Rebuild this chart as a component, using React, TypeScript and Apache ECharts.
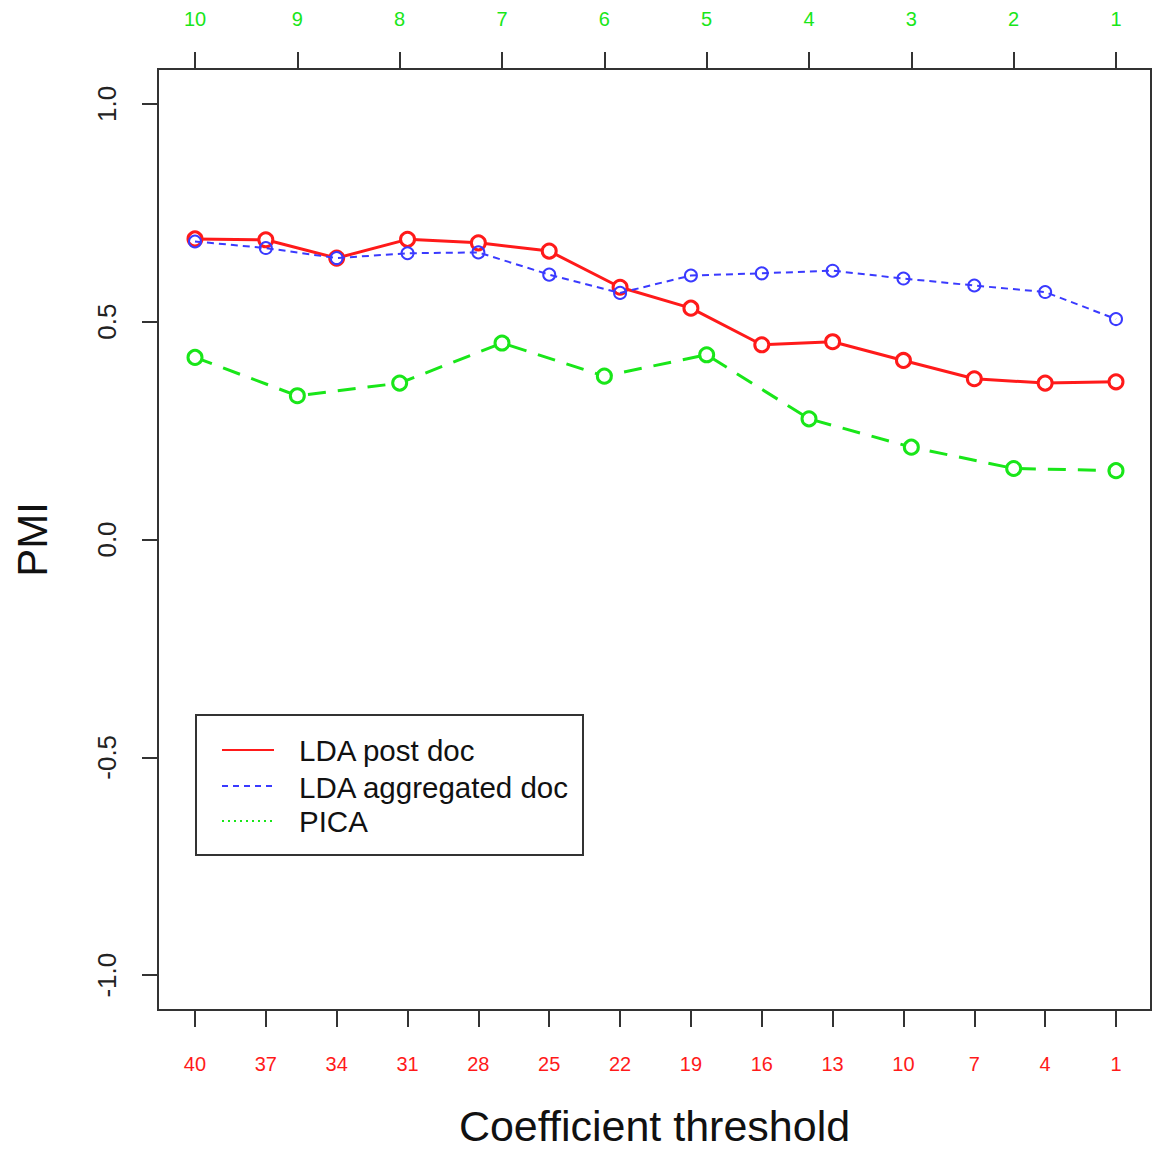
import React, { useEffect, useRef } from "react";
import * as echarts from "echarts";

const bottomLabels = ["40", "37", "34", "31", "28", "25", "22", "19", "16", "13", "10", "7", "4", "1"];
const topLabels = ["10", "9", "8", "7", "6", "5", "4", "3", "2", "1"];
const yTicks = [-1, -0.5, 0, 0.5, 1];

const ldaPostDoc = [0.69, 0.688, 0.646, 0.689, 0.681, 0.662, 0.579, 0.531, 0.447, 0.454, 0.411, 0.369, 0.359, 0.362];
const ldaAggregatedDoc = [0.684, 0.669, 0.646, 0.657, 0.659, 0.608, 0.566, 0.606, 0.611, 0.617, 0.599, 0.583, 0.568, 0.506];
const pica = [0.418, 0.33, 0.359, 0.451, 0.375, 0.424, 0.277, 0.212, 0.163, 0.158];

const seriesNames = ["LDA post doc", "LDA aggregated doc", "PICA"];

const FONT = "'Liberation Sans', Arial, Helvetica, sans-serif";
const RED = "#ff1a1a";
const BLUE = "#3a3aff";
const GREEN = "#19e619";
const AXIS = "#333333";

export default function App() {
  const ref = useRef<HTMLDivElement>(null);

  useEffect(() => {
    if (!ref.current) return;
    const chart = echarts.init(ref.current, null, { renderer: "svg" });
    const idx14 = bottomLabels.map((_, i) => i);
    const idx10 = topLabels.map((_, i) => i);

    const option: any = {
      animation: false,
      backgroundColor: "#ffffff",
      textStyle: { fontFamily: FONT },
      grid: {
        left: 158,
        top: 69,
        right: 1,
        bottom: 141,
        show: true,
        borderColor: AXIS,
        borderWidth: 2,
        containLabel: false,
      },
      xAxis: [
        {
          type: "value",
          position: "bottom",
          min: -0.522,
          max: 13.494,
          name: "Coefficient threshold",
          nameLocation: "middle",
          nameGap: 94,
          nameTextStyle: { fontSize: 43, color: "#111", fontFamily: FONT },
          axisLine: { show: true, onZero: false, lineStyle: { color: AXIS, width: 2 } },
          axisTick: { show: true, inside: false, length: 17, customValues: idx14, lineStyle: { color: AXIS, width: 2 } },
          axisLabel: {
            show: true,
            customValues: idx14,
            margin: 44,
            fontSize: 20,
            color: RED,
            fontFamily: FONT,
            formatter: (v: number) => bottomLabels[Math.round(v)] ?? "",
          },
          splitLine: { show: false },
        },
        {
          type: "value",
          position: "top",
          min: -0.3616,
          max: 9.342,
          axisLine: { show: true, onZero: false, lineStyle: { color: AXIS, width: 2 } },
          axisTick: { show: true, inside: false, length: 17, customValues: idx10, lineStyle: { color: AXIS, width: 2 } },
          axisLabel: {
            show: true,
            customValues: idx10,
            margin: 40,
            fontSize: 20,
            color: GREEN,
            fontFamily: FONT,
            formatter: (v: number) => topLabels[Math.round(v)] ?? "",
          },
          splitLine: { show: false },
        },
      ],
      yAxis: {
        type: "value",
        min: -1.08,
        max: 1.08,
        name: "PMI",
        nameLocation: "middle",
        nameRotate: 90,
        nameGap: 105,
        nameTextStyle: { fontSize: 42, color: "#111", fontFamily: FONT },
        axisLine: { show: true, onZero: false, lineStyle: { color: AXIS, width: 2 } },
        axisTick: { show: true, inside: false, length: 16, customValues: yTicks, lineStyle: { color: AXIS, width: 2 } },
        axisLabel: {
          show: true,
          customValues: yTicks,
          rotate: 90,
          margin: 38,
          fontSize: 26,
          color: "#222",
          fontFamily: FONT,
          formatter: (v: number) => v.toFixed(1),
        },
        splitLine: { show: false },
      },
      series: [
        {
          name: seriesNames[0],
          type: "line",
          xAxisIndex: 0,
          data: ldaPostDoc.map((v, i) => [i, v]),
          symbol: "circle",
          symbolSize: 14,
          lineStyle: { color: RED, width: 3 },
          itemStyle: { color: "#ffffff", borderColor: RED, borderWidth: 3 },
          z: 2,
        },
        {
          name: seriesNames[1],
          type: "line",
          xAxisIndex: 0,
          data: ldaAggregatedDoc.map((v, i) => [i, v]),
          symbol: "circle",
          symbolSize: 12,
          lineStyle: { color: BLUE, width: 2, type: [7, 5] },
          itemStyle: { color: "rgba(0,0,0,0)", borderColor: BLUE, borderWidth: 2 },
          z: 3,
        },
        {
          name: seriesNames[2],
          type: "line",
          xAxisIndex: 1,
          data: pica.map((v, j) => [j, v]),
          symbol: "circle",
          symbolSize: 14,
          lineStyle: { color: GREEN, width: 3, type: [18, 12] },
          itemStyle: { color: "#ffffff", borderColor: GREEN, borderWidth: 3 },
          z: 2,
        },
      ],
      graphic: [
        {
          type: "group",
          left: 195,
          top: 714,
          children: [
            { type: "rect", shape: { x: 0, y: 0, width: 387, height: 140 }, style: { fill: "#fff", stroke: AXIS, lineWidth: 2 } },
            { type: "line", shape: { x1: 26, y1: 35, x2: 78, y2: 35 }, style: { stroke: RED, lineWidth: 2 } },
            { type: "line", shape: { x1: 26, y1: 71, x2: 78, y2: 71 }, style: { stroke: BLUE, lineWidth: 2, lineDash: [6, 5] } },
            { type: "line", shape: { x1: 26, y1: 106, x2: 78, y2: 106 }, style: { stroke: GREEN, lineWidth: 2, lineDash: [2, 4] } },
            { type: "text", x: 103, y: 35, style: { text: seriesNames[0], fontSize: 29.5, fontFamily: FONT, fill: "#111", verticalAlign: "middle" } },
            { type: "text", x: 103, y: 72, style: { text: seriesNames[1], fontSize: 29.5, fontFamily: FONT, fill: "#111", verticalAlign: "middle" } },
            { type: "text", x: 103, y: 106, style: { text: seriesNames[2], fontSize: 29.5, fontFamily: FONT, fill: "#111", verticalAlign: "middle" } },
          ],
        },
      ],
    };

    chart.setOption(option);
    return () => chart.dispose();
  }, []);

  return <div ref={ref} style={{ position: "absolute", left: 0, top: 0, width: 1152, height: 1152 }} />;
}
